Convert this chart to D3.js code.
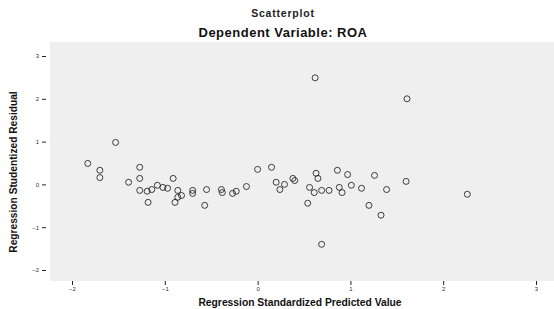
<!DOCTYPE html>
<html><head><meta charset="utf-8">
<script src="https://cdn.jsdelivr.net/npm/d3@7"></script>
<style>body{margin:0;background:#fff;}svg{display:block;}</style>
</head><body>
<svg id="c" width="554" height="309"></svg>
<script>
const title = "Scatterplot";
const subtitle = "Dependent Variable: ROA";
const xLabel = "Regression Standardized Predicted Value";
const yLabel = "Regression Studentized Residual";
const xTicks = [-2, -1, 0, 1, 2, 3];
const yTicks = [-2, -1, 0, 1, 2, 3];
const predicted = [-1.83,-1.70,-1.70,-1.53,-1.39,-1.27,-1.27,-1.27,-1.19,-1.18,-1.14,-1.08,-1.02,-0.97,-0.91,-0.86,-0.86,-0.82,-0.89,-0.70,-0.70,-0.55,-0.57,-0.39,-0.38,-0.27,-0.23,-0.12,0.00,0.15,0.20,0.24,0.29,0.38,0.40,0.62,1.61,0.63,0.65,0.56,0.54,0.61,0.69,0.77,0.86,0.97,0.88,0.91,1.01,1.12,1.26,1.39,1.20,1.33,1.60,2.26,0.69];
const residual = [0.49,0.33,0.16,0.98,0.05,0.40,0.14,-0.14,-0.16,-0.42,-0.12,-0.02,-0.07,-0.09,0.14,-0.14,-0.30,-0.26,-0.42,-0.14,-0.21,-0.12,-0.49,-0.12,-0.19,-0.21,-0.16,-0.05,0.35,0.40,0.05,-0.12,0.00,0.14,0.09,2.49,2.00,0.26,0.14,-0.07,-0.44,-0.19,-0.14,-0.14,0.33,0.23,-0.07,-0.19,-0.02,-0.09,0.21,-0.12,-0.49,-0.72,0.07,-0.23,-1.40];

const svg = d3.select("#c");
const L = 50, R = 554, T = 42, B = 281;
const x = d3.scaleLinear().domain([-2, 3]).range([72, 536]);
const y = d3.scaleLinear().domain([-2, 3]).range([270, 56]);

svg.append("rect").attr("x", L).attr("y", T).attr("width", R - L).attr("height", B - T).attr("fill", "#efefef");

const ff = "Liberation Sans, Arial, sans-serif";
svg.append("text").attr("x", 283).attr("y", 17).attr("text-anchor", "middle")
  .attr("font-family", ff).attr("font-size", 10.5).attr("font-weight", "bold").attr("letter-spacing", 0.8)
  .attr("fill", "#222").text(title);
svg.append("text").attr("x", 283).attr("y", 37).attr("text-anchor", "middle")
  .attr("font-family", ff).attr("font-size", 13).attr("font-weight", "bold").attr("letter-spacing", 0.5)
  .attr("fill", "#111").text(subtitle);

const xa = svg.append("g").attr("transform", `translate(0,${B})`)
  .call(d3.axisBottom(x).tickValues(xTicks).tickSize(4).tickFormat(d3.format("d")));
xa.select(".domain").remove();
xa.selectAll("text").attr("font-size", 6).attr("font-family", ff).attr("fill", "#333").attr("dy", "0.5em");
xa.selectAll("line").attr("stroke", "#222");

const ya = svg.append("g").attr("transform", `translate(${L - 4},0)`)
  .call(d3.axisLeft(y).tickValues(yTicks).tickSize(4).tickFormat(d3.format("d")));
ya.select(".domain").remove();
ya.selectAll("text").attr("font-size", 6).attr("font-family", ff).attr("fill", "#333");
ya.selectAll("line").attr("stroke", "#222");

svg.append("text").attr("transform", "translate(17,172) rotate(-90)").attr("text-anchor", "middle")
  .attr("font-family", ff).attr("font-size", 10.2).attr("font-weight", "bold").attr("fill", "#111").text(yLabel);
svg.append("text").attr("x", 300).attr("y", 306).attr("text-anchor", "middle")
  .attr("font-family", ff).attr("font-size", 10.3).attr("font-weight", "bold").attr("fill", "#111").text(xLabel);

svg.append("g").selectAll("circle").data(predicted.map((p, i) => [p, residual[i]])).join("circle")
  .attr("cx", d => x(d[0])).attr("cy", d => y(d[1])).attr("r", 3)
  .attr("fill", "none").attr("stroke", "#111").attr("stroke-width", 0.8);
</script>
</body></html>
